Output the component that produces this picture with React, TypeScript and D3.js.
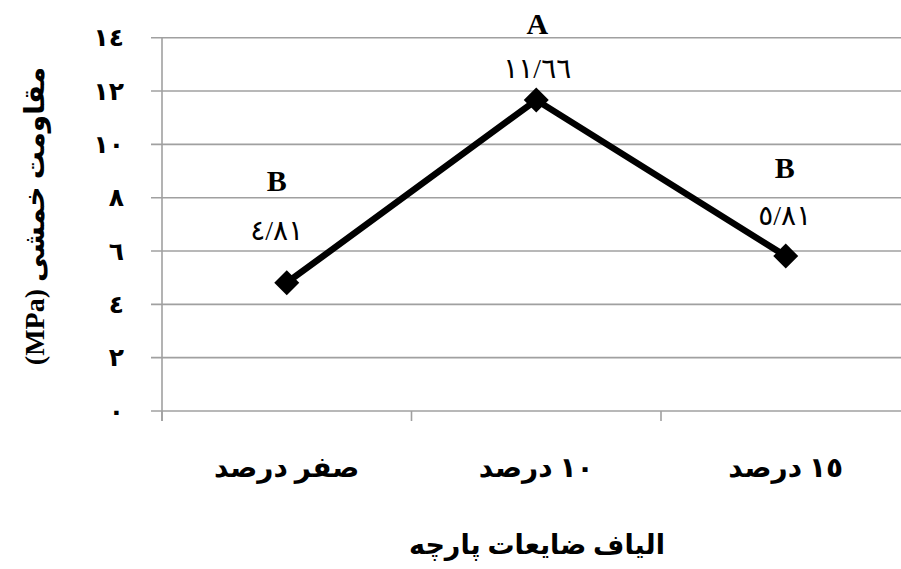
import React from "react";
import * as d3 from "d3";

const categories = ["صفر درصد", "١٠ درصد", "١٥ درصد"];
const values = [4.81, 11.66, 5.81];
const valueLabels = ["٤/٨١", "١١/٦٦", "٥/٨١"];
const groupLetters = ["B", "A", "B"];
const yTicks = [0, 2, 4, 6, 8, 10, 12, 14];
const yTickLabels = ["٠", "٢", "٤", "٦", "٨", "١٠", "١٢", "١٤"];
const yTitle = "مقاومت خمشی (MPa)";
const xTitle = "الیاف ضایعات پارچه";

// label placement offsets (px) relative to each point: [dx, valueDy, letterDy]
const labelOffsets = [
  [-10, -52, -102],
  [1, -32, -77],
  [-1, -41, -89],
];

const W = 901;
const H = 569;
const left = 162;
const right = 910.5;
const top = 37.7;
const bottom = 411;

const FONT = "'Times New Roman', 'Liberation Serif', 'DejaVu Sans', serif";
const GRID = "#a0a0a0";

export default function App() {
  const y = d3.scaleLinear().domain([0, 14]).range([bottom, top]);
  const x = d3.scalePoint<string>().domain(categories).range([left, right]).padding(0.5);
  const step = x.step();
  const line = d3
    .line<number>()
    .x((_, i) => x(categories[i]) as number)
    .y((d) => y(d));

  const xTickPositions = d3.range(categories.length + 1).map((i) => left + i * step);

  return (
    <svg
      width={W}
      height={H}
      style={{ position: "absolute", left: 0, top: 0, background: "#fff" }}
      fontFamily={FONT}
    >
      <rect x={0} y={0} width={W} height={H} fill="#fff" />
      {yTicks.map((t) => (
        <line key={"g" + t} x1={left - 11} x2={W} y1={y(t)} y2={y(t)} stroke={GRID} strokeWidth={1.6} />
      ))}
      <line x1={left} x2={left} y1={top} y2={bottom + 10} stroke={GRID} strokeWidth={1.6} />
      {xTickPositions.map((p, i) => (
        <line key={"xt" + i} x1={p} x2={p} y1={bottom} y2={bottom + 10} stroke={GRID} strokeWidth={1.6} />
      ))}
      {yTicks.map((t, i) => (
        <text
          key={"yl" + t}
          x={124}
          y={y(t)}
          textAnchor="end"
          dominantBaseline="central"
          fontSize={25}
          fontWeight="bold"
          fill="#000"
        >
          {yTickLabels[i]}
        </text>
      ))}
      <path
        d={line(values) || ""}
        fill="none"
        stroke="#000"
        strokeWidth={6.5}
        strokeLinejoin="miter"
      />
      {values.map((v, i) => {
        const cx = x(categories[i]) as number;
        const cy = y(v);
        const r = 12.5;
        return (
          <path
            key={"m" + i}
            d={`M${cx},${cy - r}L${cx + r},${cy}L${cx},${cy + r}L${cx - r},${cy}Z`}
            fill="#000"
          />
        );
      })}
      {values.map((v, i) => {
        const cx = (x(categories[i]) as number) + labelOffsets[i][0];
        const cy = y(v);
        return (
          <g key={"lab" + i}>
            <text
              x={cx}
              y={cy + labelOffsets[i][2]}
              textAnchor="middle"
              dominantBaseline="central"
              fontSize={30}
              fontWeight="bold"
              fill="#000"
            >
              {groupLetters[i]}
            </text>
            <text
              x={cx}
              y={cy + labelOffsets[i][1]}
              textAnchor="middle"
              dominantBaseline="central"
              fontSize={28}
              fill="#000"
            >
              {valueLabels[i]}
            </text>
          </g>
        );
      })}
      {categories.map((c) => (
        <text
          key={"c" + c}
          x={x(c) as number}
          y={467}
          textAnchor="middle"
          dominantBaseline="central"
          direction="rtl"
          fontSize={28}
          fontWeight="bold"
          fill="#000"
        >
          {c}
        </text>
      ))}
      <text
        x={537}
        y={545}
        textAnchor="middle"
        dominantBaseline="central"
        direction="rtl"
        fontSize={27}
        fontWeight="bold"
        fill="#000"
      >
        {xTitle}
      </text>
      <text
        transform="translate(34,216) rotate(-90)"
        x={0}
        y={0}
        textAnchor="middle"
        dominantBaseline="central"
        direction="rtl"
        fontSize={28}
        fontWeight="bold"
        fill="#000"
      >
        {yTitle}
      </text>
    </svg>
  );
}
